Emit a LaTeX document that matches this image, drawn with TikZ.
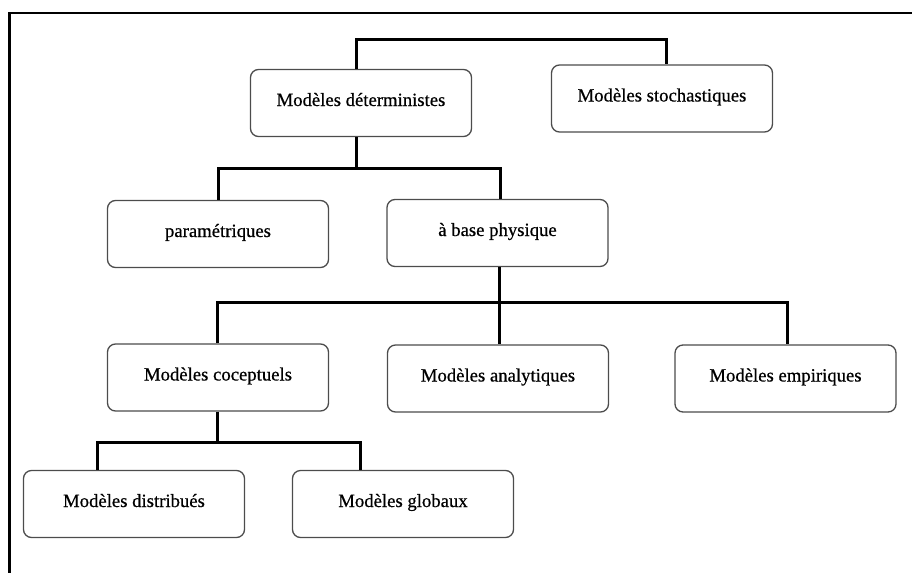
\documentclass[tikz,border=0pt]{standalone}
\usepackage{fontspec}
\setmainfont{Liberation Serif}
\newfontfamily\boxfont[FakeBold=0.6]{Liberation Serif}
\begin{document}
\begin{tikzpicture}[x=1pt,y=-1pt,
  modelbox/.style={draw=black!70, line width=1.3pt, rounded corners=8pt,
    minimum width=221pt, minimum height=67pt, inner sep=0pt,
    text height=12pt, text depth=6pt, text=black,
    font=\boxfont\fontsize{18.7}{22}\selectfont},
  conn/.style={line width=3pt, line join=miter, line cap=butt},
  frame/.style={line width=2.2pt}]
\useasboundingbox (0,0) rectangle (912,573);
% frame
\coordinate (fr) at (912,13);
\coordinate (fc) at (9.5,13);
\coordinate (fb) at (9.5,573);
\draw[frame] (fr) -- (fc) -- (fb);
% boxes
\node[modelbox] (det) at (361,103)   {Modèles déterministes};
\node[modelbox] (sto) at (662,98.5)  {Modèles stochastiques};
\node[modelbox] (par) at (218,234)   {paramétriques};
\node[modelbox] (phy) at (497.5,233) {à base physique};
\node[modelbox] (coc) at (218,377.5) {Modèles coceptuels};
\node[modelbox] (ana) at (498,378.5) {Modèles analytiques};
\node[modelbox] (emp) at (785.5,378.5) {Modèles empiriques};
\node[modelbox] (dis) at (134,504)   {Modèles distribués};
\node[modelbox] (glo) at (403,504)   {Modèles globaux};
% bus coordinates
\coordinate (t1) at (356,39);
\coordinate (t2) at (666,39);
\coordinate (b2l) at (218,168);
\coordinate (b2m) at (356,168);
\coordinate (b2r) at (500,168);
\coordinate (b3l) at (217,302);
\coordinate (b3m) at (499,302);
\coordinate (b3r) at (787,302);
\coordinate (b4l) at (97,442);
\coordinate (b4m) at (217,442);
\coordinate (b4r) at (360,442);
% connectors
\draw[conn] (t1 |- det.north) -- (t1) -- (t2) -- (t2 |- sto.north);
\draw[conn] (b2m |- det.south) -- (b2m);
\draw[conn] (b2l |- par.north) -- (b2l) -- (b2r) -- (b2r |- phy.north);
\draw[conn] (b3m |- phy.south) -- (b3m |- ana.north);
\draw[conn] (b3l |- coc.north) -- (b3l) -- (b3r) -- (b3r |- emp.north);
\draw[conn] (b4m |- coc.south) -- (b4m);
\draw[conn] (b4l |- dis.north) -- (b4l) -- (b4r) -- (b4r |- glo.north);
\end{tikzpicture}
\end{document}
